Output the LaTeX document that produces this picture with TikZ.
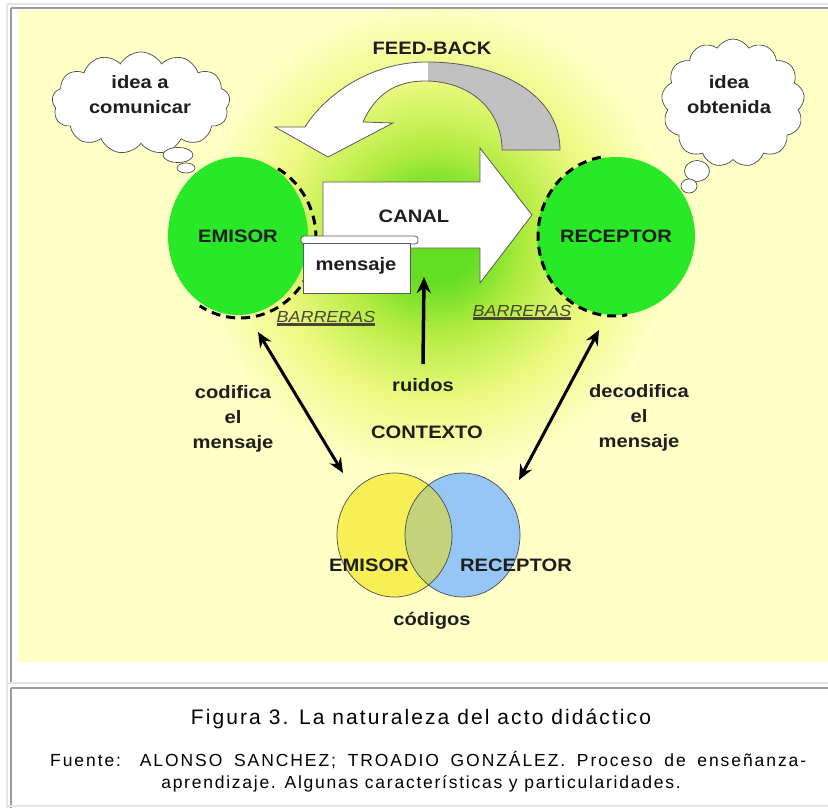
\documentclass[tikz,border=0pt]{standalone}
\usepackage{fontspec}
\setmainfont{Liberation Sans}
\newfontfamily\labfont[FakeStretch=1.12]{Liberation Sans}
\newfontfamily\capfont[LetterSpace=10]{Liberation Sans}
\newfontfamily\capfontw[LetterSpace=11]{Liberation Sans}
\usetikzlibrary{shapes.symbols,shapes.geometric,arrows.meta}
\definecolor{bgY}{RGB}{255,255,198}
\definecolor{glowA}{RGB}{100,222,35}
\definecolor{glowB}{RGB}{180,236,65}
\definecolor{glowC}{RGB}{236,249,128}
\definecolor{grnC}{RGB}{40,232,40}
\definecolor{vennY}{RGB}{246,240,86}
\definecolor{vennB}{RGB}{150,198,245}
\definecolor{vennG}{RGB}{196,210,122}
\definecolor{fbGray}{RGB}{192,192,192}
\definecolor{frameD}{RGB}{155,155,155}
\definecolor{frameL}{RGB}{228,228,228}
\definecolor{txt}{RGB}{30,30,30}
\definecolor{barr}{RGB}{70,70,50}
\pgfdeclareradialshading{glow}{\pgfpoint{0bp}{0bp}}{color(0bp)=(glowA); color(4.5bp)=(glowA); color(10bp)=(glowB); color(17bp)=(glowC); color(25bp)=(bgY); color(50bp)=(bgY)}
\tikzset{
  lab/.style={font=\labfont\bfseries\fontsize{18}{25}\selectfont, text=txt, align=center, inner sep=0pt},
  barlab/.style={font=\labfont\itshape\fontsize{16}{18}\selectfont, text=barr, inner sep=0pt},
  cloudshape/.style={cloud, cloud puffs=13, cloud puff arc=120, draw=black!70, line width=0.7pt, fill=white, inner sep=0pt},
  bubble/.style={ellipse, draw=black!70, line width=0.7pt, fill=white, inner sep=0pt},
  greencirc/.style={ellipse, fill=grnC, inner sep=0pt, minimum width=140pt, minimum height=158pt},
  barrier/.style={line width=3pt, black, dash pattern=on 9pt off 6pt},
  outl/.style={draw=black!65, line width=0.8pt},
  dblarrow/.style={line width=3pt, black, {Stealth[length=15pt,width=13pt]}-{Stealth[length=15pt,width=13pt]}},
  noisearrow/.style={line width=3.5pt, black, -{Stealth[length=16pt,width=14pt]}},
  vennc/.style={ellipse, inner sep=0pt, minimum width=115pt, minimum height=124pt},
  caption/.style={font=\capfont, text=black, inner sep=0pt}
}
\begin{document}
\begin{tikzpicture}[x=1pt,y=1pt]
\useasboundingbox (0,0) rectangle (828,-808);
\fill[white] (0,0) rectangle (828,-808);
% frames
\draw[frameL, line width=1.5pt] (7,-4) -- (828,-4);
\draw[frameL, line width=1.5pt] (7,-4) -- (7,-808);
\draw[frameD, line width=2pt] (11,-8) -- (828,-8);
\draw[frameD, line width=2pt] (11,-8) -- (11,-683);
\draw[frameL, line width=1.5pt] (7,-683) -- (828,-683);
\draw[frameD, line width=2pt] (11,-688) -- (828,-688);
\draw[frameD, line width=2pt] (11,-688) -- (11,-808);
\draw[frameL, line width=1.5pt] (7,-806) -- (828,-806);
% panel
\fill[bgY] (18,-10) rectangle (828,-662);
\begin{scope}
  \clip (18,-10) rectangle (828,-662);
  \shade[shading=glow] (435,-240) circle (235);
\end{scope}
% feed-back arrow
\fill[white] (560,-150) .. controls (560,-95) and (500,-62) .. (427,-62) .. controls (370,-62) and (325,-95) .. (305,-127) -- (275,-127) -- (328,-157) -- (393,-123) -- (363,-122) .. controls (375,-95) and (395,-81) .. (425,-81) .. controls (470,-81) and (502,-110) .. (502,-150) -- cycle;
\begin{scope}
  \clip (560,-150) .. controls (560,-95) and (500,-62) .. (427,-62) .. controls (370,-62) and (325,-95) .. (305,-127) -- (275,-127) -- (328,-157) -- (393,-123) -- (363,-122) .. controls (375,-95) and (395,-81) .. (425,-81) .. controls (470,-81) and (502,-110) .. (502,-150) -- cycle;
  \fill[fbGray] (428,-40) rectangle (600,-170);
\end{scope}
\draw[outl] (560,-150) .. controls (560,-95) and (500,-62) .. (427,-62) .. controls (370,-62) and (325,-95) .. (305,-127) -- (275,-127) -- (328,-157) -- (393,-123) -- (363,-122) .. controls (375,-95) and (395,-81) .. (425,-81) .. controls (470,-81) and (502,-110) .. (502,-150) -- cycle;
\node[lab] (feedback) at (432,-48) {FEED-BACK};
% clouds
\node[cloudshape, minimum width=178pt, minimum height=102pt] (cloudL) at (141,-103) {};
\node[bubble, minimum width=30pt, minimum height=15pt] (bubL1) at (178,-155) {};
\node[bubble, minimum width=18pt, minimum height=10pt] (bubL2) at (186,-168) {};
\node[lab] (ideaL) at (140,-95) {idea a\\comunicar};
\node[cloudshape, minimum width=143pt, minimum height=128pt] (cloudR) at (733,-103) {};
\node[bubble, minimum width=25pt, minimum height=21pt] (bubR1) at (697,-171) {};
\node[bubble, minimum width=16pt, minimum height=14pt] (bubR2) at (689,-186) {};
\node[lab] (ideaR) at (729,-95) {idea\\obtenida};
% green circles
\node[greencirc, lab] (emisor) at (238,-236) {EMISOR};
\node[greencirc, lab] (receptor) at (616,-236) {RECEPTOR};
\draw[barrier] (240,-238) ++(60:76pt and 80pt) arc[start angle=60, end angle=-122, x radius=76pt, y radius=80pt];
\draw[barrier] (614,-236) ++(100:76pt and 80pt) arc[start angle=100, end angle=280, x radius=76pt, y radius=80pt];
% canal arrow
\filldraw[fill=white, outl] (323,-182) -- (480,-182) -- (480,-148) -- (532,-215) -- (480,-283) -- (480,-248) -- (323,-248) -- cycle;
\node[lab] (canal) at (414,-216) {CANAL};
% mensaje
\filldraw[fill=white, outl, rounded corners=3pt] (301,-236) rectangle (418,-244);
\filldraw[fill=white, outl] (303,-243) rectangle (410,-293);
\node[lab] (mensaje) at (356,-266) {mensaje};
% barreras
\node[barlab] (barL) at (326,-317) {BARRERAS};
\draw[barr, line width=3pt] ([yshift=-2pt]barL.south west) -- ([yshift=-2pt]barL.south east);
\node[barlab] (barR) at (522,-311) {BARRERAS};
\draw[barr, line width=3pt] ([yshift=-2pt]barR.south west) -- ([yshift=-2pt]barR.south east);
% ruidos
\node[lab] (ruidos) at (423,-385) {ruidos};
\coordinate (rtip) at (424,-277);
\draw[noisearrow] ([yshift=14pt]ruidos.north) -- (rtip);
\node[lab] (contexto) at (427,-432) {CONTEXTO};
% codifica / decodifica
\node[lab] (codifica) at (233,-419) {codifica\\el\\mensaje};
\node[lab] (decodifica) at (639,-418) {decodifica\\el\\mensaje};
% venn
\node[vennc, fill=vennY] (vennE) at (394.5,-535) {};
\node[vennc, fill=vennB] (vennR) at (462.5,-535) {};
\begin{scope}
  \clip (394.5,-535) ellipse (57.5pt and 62pt);
  \fill[vennG] (462.5,-535) ellipse (57.5pt and 62pt);
\end{scope}
\draw[black!70, line width=0.7pt] (394.5,-535) ellipse (57.5pt and 62pt);
\draw[black!70, line width=0.7pt] (462.5,-535) ellipse (57.5pt and 62pt);
\node[lab] (vEtxt) at (369,-565) {EMISOR};
\node[lab] (vRtxt) at (516,-565) {RECEPTOR};
\node[lab] (codigos) at (432,-621) {códigos};
% double arrows
\coordinate (e1) at (258,-332);
\coordinate (e2) at (343,-473);
\coordinate (r1) at (599,-330);
\coordinate (r2) at (519,-480);
\draw[dblarrow] (e1) -- (e2);
\draw[dblarrow] (r1) -- (r2);
% caption
\node[caption, font=\capfont\fontsize{21}{24}\selectfont] (title) at (421,-719) {Figura 3. La naturaleza del acto didáctico};
\node[caption, font=\capfontw\fontsize{17.5}{20}\selectfont, anchor=west] (fuente1) at (50,-760) {\makebox[756pt][s]{Fuente: ALONSO SANCHEZ; TROADIO GONZÁLEZ. Proceso de enseñanza-}};
\node[caption, font=\capfont\fontsize{17.5}{20}\selectfont] (fuente2) at (421,-784) {aprendizaje. Algunas características y particularidades.};
\end{tikzpicture}
\end{document}
